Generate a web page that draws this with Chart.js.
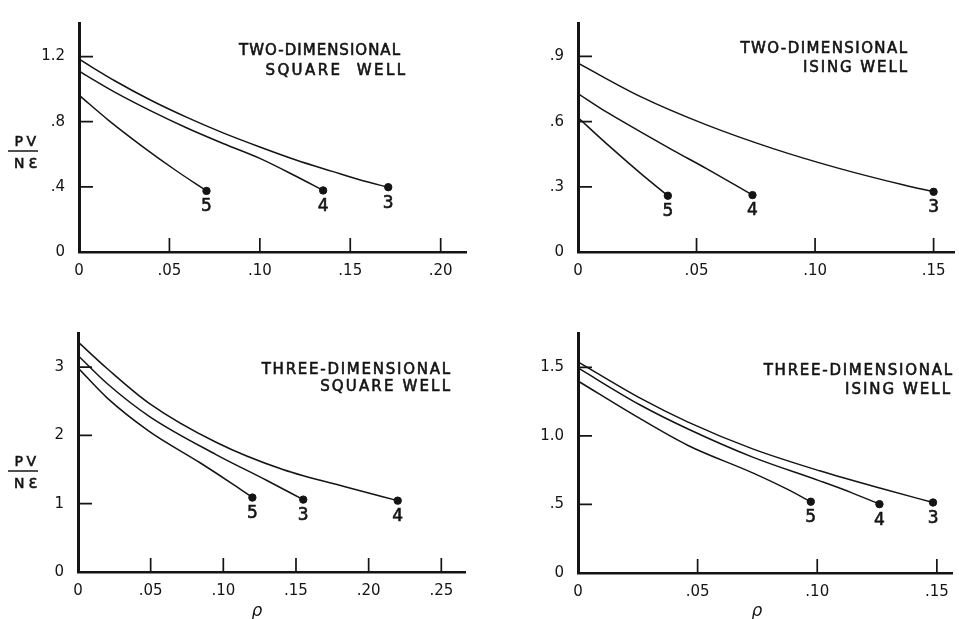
<!DOCTYPE html>
<html>
<head>
<meta charset="utf-8">
<script src="https://cdn.jsdelivr.net/npm/chart.js@4.4.0/dist/chart.umd.min.js"></script>
<style>
  html, body { margin: 0; padding: 0; background: #fff; }
  #wrap { position: relative; width: 959px; height: 619px; overflow: hidden; }
  canvas { position: absolute; }
</style>
</head>
<body>
<div id="wrap">
  <canvas id="c1" width="480" height="310" style="left:0;top:0"></canvas>
  <canvas id="c2" width="479" height="310" style="left:480px;top:0"></canvas>
  <canvas id="c3" width="480" height="309" style="left:0;top:310px"></canvas>
  <canvas id="c4" width="479" height="309" style="left:480px;top:310px"></canvas>
</div>
<script>
// values: rho (x) and PV/NE (y), one pair of arrays per curve

// two-dimensional square well
const sq2Rho3 = [0, .02, .04, .06, .08, .10, .12, .14, .157, .171];
const sq2Pv3  = [1.184, 1.05, .93, .825, .73, .645, .565, .495, .437, .398];
const sq2Rho4 = [0, .02, .04, .06, .08, .10, .12, .135];
const sq2Pv4  = [1.11, .98, .865, .76, .665, .575, .465, .378];
const sq2Rho5 = [0, .0162, .0346, .053, .0705];
const sq2Pv5  = [.963, .81, .652, .505, .375];

// two-dimensional ising well
const is2Rho3 = [0, .0264, .0542, .082, .1097, .1375, .15];
const is2Pv3  = [.869, .715, .585, .477, .386, .308, .277];
const is2Rho4 = [0, .0125, .0264, .0403, .0542, .0736];
const is2Pv4  = [.729, .641, .553, .467, .384, .262];
const is2Rho5 = [0, .0125, .0264, .0379];
const is2Pv5  = [.619, .494, .362, .259];

// three-dimensional square well
const sq3Rho4 = [0, .02, .049, .095, .141, .187, .22];
const sq3Pv4  = [3.37, 2.98, 2.47, 1.90, 1.50, 1.23, 1.045];
const sq3Rho3 = [0, .02, .049, .095, .13, .155];
const sq3Pv3  = [3.17, 2.76, 2.28, 1.72, 1.34, 1.06];
const sq3Rho5 = [0, .02, .049, .084, .107, .12];
const sq3Pv5  = [2.99, 2.55, 2.06, 1.60, 1.28, 1.09];

// three-dimensional ising well
const is3Rho3 = [0, .026, .046, .073, .101, .128, .1484];
const is3Pv3  = [1.54, 1.275, 1.10, .905, .745, .61, .514];
const is3Rho4 = [0, .026, .046, .073, .101, .114, .126];
const is3Pv4  = [1.495, 1.225, 1.05, .845, .672, .588, .502];
const is3Rho5 = [0, .026, .046, .073, .087, .0973];
const is3Pv5  = [1.40, 1.125, .93, .73, .615, .52];

// tick labels
const sq2XTicks = ['0', '.05', '.10', '.15', '.20'];
const sq2YTicks = ['0', '.4', '.8', '1.2'];
const is2XTicks = ['0', '.05', '.10', '.15'];
const is2YTicks = ['0', '.3', '.6', '.9'];
const sq3XTicks = ['0', '.05', '.10', '.15', '.20', '.25'];
const sq3YTicks = ['0', '1', '2', '3'];
const is3XTicks = ['0', '.05', '.10', '.15'];
const is3YTicks = ['0', '.5', '1.0', '1.5'];

const FONT = 'DejaVu Sans';
const INK = '#141414';

function pts(xs, ys) {
  return xs.map((x, i) => ({ x: x, y: ys[i] }));
}

// text spread out to a given width, a little heavier than the regular face
function spread(ctx, text, right, y, width) {
  ctx.letterSpacing = '0px';
  const w = ctx.measureText(text).width;
  const sp = (width - w) / text.length;
  ctx.letterSpacing = sp.toFixed(2) + 'px';
  ctx.textAlign = 'right';
  const x = right + sp;
  ctx.fillText(text, x, y);
  ctx.strokeText(text, x, y);
  ctx.letterSpacing = '0px';
}

// inward tick marks, curve numbers, panel titles, axis titles
const decor = {
  id: 'decor',
  afterDatasetsDraw(chart, args, o) {
    const ctx = chart.ctx;
    const xs = chart.scales.x, ys = chart.scales.y;
    const a = chart.chartArea;
    ctx.save();
    ctx.strokeStyle = INK;
    ctx.lineWidth = 1.7;
    ctx.beginPath();
    xs.ticks.forEach(t => {
      if (t.value === 0) return;
      const px = xs.getPixelForValue(t.value);
      ctx.moveTo(px, a.bottom);
      ctx.lineTo(px, a.bottom - 14);
    });
    ys.ticks.forEach(t => {
      if (t.value === 0) return;
      const py = ys.getPixelForValue(t.value);
      ctx.moveTo(a.left, py);
      ctx.lineTo(a.left + 14, py);
    });
    ctx.stroke();

    ctx.fillStyle = INK;
    ctx.textBaseline = 'middle';
    ctx.lineWidth = 0.6;
    ctx.textAlign = 'center';
    ctx.font = '17px ' + FONT;
    chart.data.datasets.forEach((ds, i) => {
      const el = chart.getDatasetMeta(i).data[ds.data.length - 1];
      ctx.fillText(ds.label, el.x, el.y + 16);
      ctx.strokeText(ds.label, el.x, el.y + 16);
    });

    ctx.font = '15px ' + FONT;
    o.titles.forEach(t => spread(ctx, t.text, t.x, t.y, t.w));

    if (o.yTitle) {
      const f = o.yTitle;
      ctx.font = '14px ' + FONT;
      spread(ctx, 'PV', f.x + 13, f.y - 9, 25);
      spread(ctx, 'N\u0190', f.x + 14, f.y + 13, 27);
      ctx.lineWidth = 1.5;
      ctx.beginPath();
      ctx.moveTo(f.x - 15, f.y);
      ctx.lineTo(f.x + 15, f.y);
      ctx.stroke();
    }
    if (o.xTitle) {
      ctx.textAlign = 'center';
      ctx.font = 'italic 17px ' + FONT;
      ctx.fillText('\u03c1', o.xTitle.x, o.xTitle.y);
    }
    ctx.restore();
  }
};

function makePanel(id, p) {
  const datasets = p.curves.map(c => ({
    label: c.n,
    data: pts(c.rho, c.pv),
    showLine: true,
    borderColor: INK,
    borderWidth: 1.5,
    cubicInterpolationMode: 'monotone',
    pointRadius: ctx => ctx.dataIndex === c.rho.length - 1 ? 3.7 : 0,
    pointBackgroundColor: INK,
    pointBorderColor: INK,
    pointBorderWidth: 1
  }));
  return new Chart(document.getElementById(id), {
    type: 'scatter',
    data: { datasets: datasets },
    plugins: [decor],
    options: {
      responsive: false,
      animation: false,
      events: [],
      layout: { padding: { left: 0, right: p.padRight, top: p.padTop, bottom: 0 } },
      plugins: {
        legend: { display: false },
        tooltip: { enabled: false },
        decor: { titles: p.titles, yTitle: p.yTitle, xTitle: p.xTitle }
      },
      scales: {
        x: {
          type: 'linear',
          min: 0, max: p.xMax,
          afterFit: s => { s.height = p.xHeight; },
          border: { color: INK, width: 2.5 },
          grid: { display: true, drawOnChartArea: false, drawTicks: false },
          ticks: {
            stepSize: p.xStep, includeBounds: false, autoSkip: false, maxRotation: 0,
            padding: 10, color: INK, font: { family: FONT, size: 15 },
            callback: (v, i) => p.xLabels[i]
          }
        },
        y: {
          type: 'linear',
          min: 0, max: p.yMax,
          afterFit: s => { s.width = p.yWidth; },
          border: { color: INK, width: 3 },
          grid: { display: true, drawOnChartArea: false, drawTicks: false },
          ticks: {
            stepSize: p.yStep, includeBounds: false, autoSkip: false,
            padding: 14, color: INK, font: { family: FONT, size: 15 },
            callback: (v, i) => p.yLabels[i]
          }
        }
      }
    }
  });
}

makePanel('c1', {
  curves: [
    { n: '3', rho: sq2Rho3, pv: sq2Pv3 },
    { n: '4', rho: sq2Rho4, pv: sq2Pv4 },
    { n: '5', rho: sq2Rho5, pv: sq2Pv5 }
  ],
  xMax: .214, xStep: .05, yMax: 1.406, yStep: .4,
  xLabels: sq2XTicks, yLabels: sq2YTicks,
  yWidth: 79, xHeight: 58, padTop: 13, padRight: 14,
  titles: [
    { text: 'TWO-DIMENSIONAL', x: 400, y: 51, w: 162 },
    { text: 'SQUARE  WELL', x: 405, y: 71, w: 142 }
  ],
  yTitle: { x: 23, y: 151 }
});

makePanel('c2', {
  curves: [
    { n: '3', rho: is2Rho3, pv: is2Pv3 },
    { n: '4', rho: is2Rho4, pv: is2Pv4 },
    { n: '5', rho: is2Rho5, pv: is2Pv5 }
  ],
  xMax: .1586, xStep: .05, yMax: 1.054, yStep: .3,
  xLabels: is2XTicks, yLabels: is2YTicks,
  yWidth: 98, xHeight: 58, padTop: 13, padRight: 0,
  titles: [
    { text: 'TWO-DIMENSIONAL', x: 427, y: 49, w: 168 },
    { text: 'ISING WELL', x: 427, y: 68, w: 106 }
  ]
});

makePanel('c3', {
  curves: [
    { n: '4', rho: sq3Rho4, pv: sq3Pv4 },
    { n: '3', rho: sq3Rho3, pv: sq3Pv3 },
    { n: '5', rho: sq3Rho5, pv: sq3Pv5 }
  ],
  xMax: .2663, xStep: .05, yMax: 3.5, yStep: 1,
  xLabels: sq3XTicks, yLabels: sq3YTicks,
  yWidth: 78, xHeight: 47, padTop: 23, padRight: 15,
  titles: [
    { text: 'THREE-DIMENSIONAL', x: 450, y: 60, w: 190 },
    { text: 'SQUARE WELL', x: 450, y: 77, w: 132 }
  ],
  yTitle: { x: 23, y: 161 },
  xTitle: { x: 257, y: 302 }
});

makePanel('c4', {
  curves: [
    { n: '3', rho: is3Rho3, pv: is3Pv3 },
    { n: '4', rho: is3Rho4, pv: is3Pv4 },
    { n: '5', rho: is3Rho5, pv: is3Pv5 }
  ],
  xMax: .1566, xStep: .05, yMax: 1.75, yStep: .5,
  xLabels: is3XTicks, yLabels: is3YTicks,
  yWidth: 98, xHeight: 46, padTop: 23, padRight: 0,
  titles: [
    { text: 'THREE-DIMENSIONAL', x: 472, y: 61, w: 190 },
    { text: 'ISING WELL', x: 470, y: 80, w: 107 }
  ],
  xTitle: { x: 277, y: 302 }
});
</script>
</body>
</html>
